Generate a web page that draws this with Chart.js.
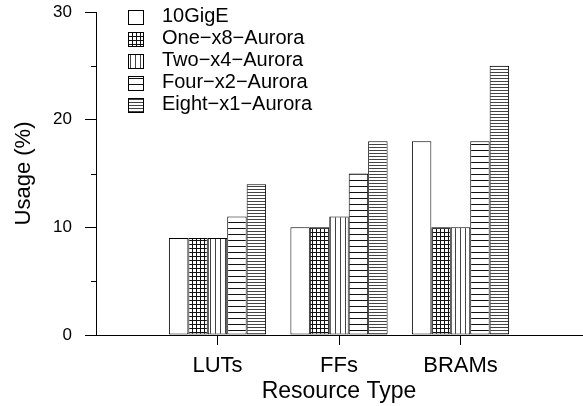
<!DOCTYPE html>
<html lang="en">
<head>
  <meta charset="UTF-8">
  <title>Resource Usage</title>
  <script src="https://cdn.jsdelivr.net/npm/chart.js"></script>
  <style>
    html, body { margin: 0; padding: 0; background: #fff; }
    #wrap { width: 583px; height: 406px; }
  </style>
</head>
<body>
  <div id="wrap"><canvas id="usageChart" width="583" height="406"></canvas></div>
  <script>
    // categories and series values
    const categories = ['LUTs', 'FFs', 'BRAMs'];
    const seriesNames = ['10GigE', 'One\u2212x8\u2212Aurora', 'Two\u2212x4\u2212Aurora', 'Four\u2212x2\u2212Aurora', 'Eight\u2212x1\u2212Aurora'];
    const tenGigE = [9, 10, 18];
    const oneX8 = [9, 10, 10];
    const twoX4 = [9, 11, 10];
    const fourX2 = [11, 15, 18];
    const eightX1 = [14, 18, 25];
    const yTicks = [0, 10, 20, 30];
    const yMinorTicks = [5, 15, 25];

    const FONT = "'Liberation Sans', Arial, Helvetica, sans-serif";
    Chart.defaults.font.family = FONT;
    Chart.defaults.color = '#000';

    // hatch fills, like the old b/w plot
    function makePattern(kind) {
      if (kind === 'blank') return '#fff';
      const c = document.createElement('canvas');
      const g = c.getContext('2d');
      if (kind === 'grid') {
        c.width = 4; c.height = 4;
        g.fillStyle = '#fff'; g.fillRect(0, 0, 4, 4);
        g.fillStyle = '#111';
        g.fillRect(0, 0, 1, 4);
        g.fillRect(0, 0, 4, 1);
      } else if (kind === 'vert') {
        c.width = 5; c.height = 1;
        g.fillStyle = '#fff'; g.fillRect(0, 0, 5, 1);
        g.fillStyle = '#444'; g.fillRect(0, 0, 1, 1);
      } else if (kind === 'hsparse') {
        c.width = 1; c.height = 6;
        g.fillStyle = '#fff'; g.fillRect(0, 0, 1, 6);
        g.fillStyle = '#111'; g.fillRect(0, 0, 1, 1);
      } else {
        c.width = 1; c.height = 3;
        g.fillStyle = '#fff'; g.fillRect(0, 0, 1, 3);
        g.fillStyle = '#444'; g.fillRect(0, 0, 1, 1);
      }
      return g.createPattern(c, 'repeat');
    }

    const fills = ['blank', 'grid', 'vert', 'hsparse', 'hdense'].map(makePattern);
    const values = [tenGigE, oneX8, twoX4, fourX2, eightX1];

    const datasets = values.map((vals, i) => ({
      label: seriesNames[i],
      data: vals.map((v, j) => ({ x: j + 1, y: v })),
      backgroundColor: fills[i],
      borderColor: '#000',
      borderWidth: 1,
      borderSkipped: false
    }));

    // legend drawn by hand at the top left of the plot
    const boxLegend = {
      id: 'boxLegend',
      afterDraw(chart) {
        const ctx = chart.ctx;
        ctx.save();
        ctx.font = '20px ' + FONT;
        ctx.textBaseline = 'middle';
        chart.data.datasets.forEach((ds, i) => {
          const y = 16.5 + i * 22;
          ctx.fillStyle = ds.backgroundColor;
          ctx.fillRect(128, Math.round(y - 7), 15, 14);
          ctx.strokeStyle = '#000';
          ctx.lineWidth = 1;
          ctx.strokeRect(128.5, Math.round(y - 7) + 0.5, 15, 14);
          ctx.fillStyle = '#000';
          ctx.fillText(ds.label, 162, y);
        });
        ctx.restore();
      }
    };

    // short unlabelled ticks at 5, 15, 25
    const minorTicks = {
      id: 'minorTicks',
      afterDraw(chart) {
        const ctx = chart.ctx;
        const y = chart.scales.y;
        ctx.save();
        ctx.strokeStyle = '#000';
        ctx.lineWidth = 1;
        yMinorTicks.forEach(v => {
          const py = Math.round(y.getPixelForValue(v)) + 0.5;
          ctx.beginPath();
          ctx.moveTo(y.right - 5, py);
          ctx.lineTo(y.right, py);
          ctx.stroke();
        });
        ctx.restore();
      }
    };

    new Chart(document.getElementById('usageChart'), {
      type: 'bar',
      data: { datasets },
      options: {
        responsive: false,
        animation: false,
        devicePixelRatio: 1,
        layout: { padding: { top: 12, right: 1, left: 0, bottom: 0 } },
        datasets: { bar: { categoryPercentage: 0.8, barPercentage: 1 } },
        plugins: { legend: { display: false }, tooltip: { enabled: false } },
        scales: {
          x: {
            type: 'linear',
            min: 0,
            max: 4,
            offset: false,
            afterBuildTicks: s => { s.ticks = categories.map((c, i) => ({ value: i + 1 })); },
            afterFit: s => { s.height = 71; },
            grid: { offset: false, drawOnChartArea: false, drawTicks: true, tickLength: 10, color: '#000' },
            border: { display: true, color: '#000' },
            ticks: {
              autoSkip: false,
              maxRotation: 0,
              padding: 8,
              font: { size: 22 },
              callback: v => categories[v - 1]
            },
            title: { display: true, text: 'Resource Type', font: { size: 23 }, padding: { top: 0, bottom: 1 } }
          },
          y: {
            min: 0,
            max: 30,
            afterBuildTicks: s => { s.ticks = yTicks.map(v => ({ value: v })); },
            afterFit: s => { s.width = 96; s.paddingTop = 0; s.paddingBottom = 0; },
            grid: { drawOnChartArea: false, drawTicks: true, tickLength: 11, color: '#000' },
            border: { display: true, color: '#000' },
            ticks: { padding: 13, font: { size: 17 } },
            title: { display: true, text: 'Usage (%)', font: { size: 22 }, padding: { top: 11, bottom: 0 } }
          }
        }
      },
      plugins: [boxLegend, minorTicks]
    });
  </script>
</body>
</html>
